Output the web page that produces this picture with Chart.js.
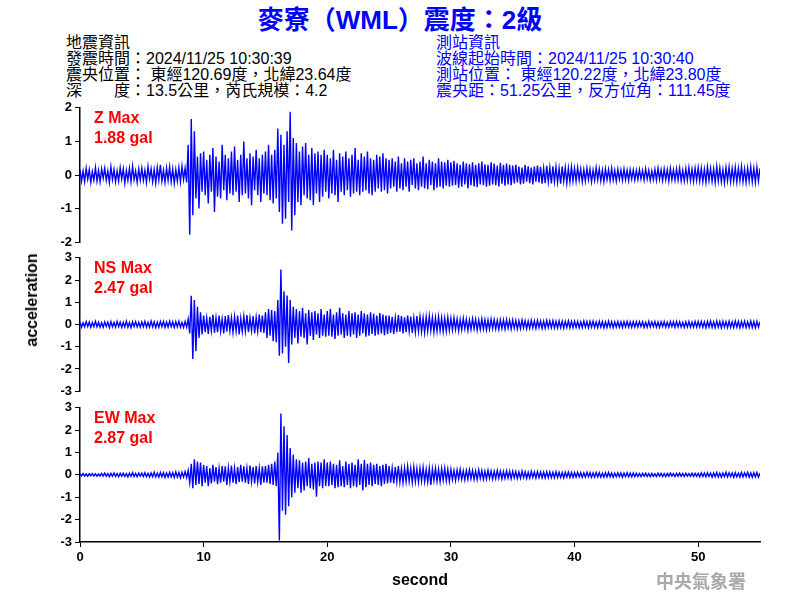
<!DOCTYPE html>
<html>
<head>
<meta charset="utf-8">
<script src="https://cdn.jsdelivr.net/npm/chart.js@4"></script>
<style>
  body { margin: 0; background: #fff; }
  #wrap { position: relative; width: 800px; height: 600px; overflow: hidden; font-family: "Liberation Sans", Arial, "Noto Sans CJK TC", sans-serif; }
  canvas { position: absolute; left: 40px; }
  #title { position: absolute; top: 3px; left: 0; width: 800px; text-align: center; color: #0000ff; font-size: 26px; font-weight: bold; line-height: 34px; }
  .info { position: absolute; top: 35px; font-size: 16px; line-height: 16px; white-space: pre; }
  #eqinfo { left: 66px; color: #000; }
  #stinfo { left: 436px; color: #0000ff; }
  .maxlbl { position: absolute; left: 94px; color: #ff0000; font-size: 16px; font-weight: bold; line-height: 20px; }
  #ylabel { position: absolute; left: 32px; top: 300px; transform: translate(-50%, -50%) rotate(-90deg); font-size: 16px; font-weight: bold; color: #000; white-space: nowrap; }
  #stamp { position: absolute; left: 656px; top: 570px; font-size: 18px; line-height: 20px; color: #a8a8a8; font-family: "Noto Sans CJK TC", sans-serif; font-weight: bold; }
</style>
</head>
<body>
<div id="wrap">
  <div id="title">麥寮（WML）震度：2級</div>
  <div class="info" id="eqinfo">地震資訊
發震時間：2024/11/25 10:30:39
震央位置： 東經120.69度，北緯23.64度
深　　度：13.5公里，芮氏規模：4.2</div>
  <div class="info" id="stinfo">測站資訊
波線起始時間：2024/11/25 10:30:40
測站位置： 東經120.22度，北緯23.80度
震央距：51.25公里，反方位角：111.45度</div>

  <canvas id="zChart" width="730" height="156" style="top:97px"></canvas>
  <canvas id="nsChart" width="730" height="155" style="top:247px"></canvas>
  <canvas id="ewChart" width="730" height="203" style="top:397px"></canvas>

  <div class="maxlbl" style="top:108px">Z Max<br>1.88 gal</div>
  <div class="maxlbl" style="top:258px">NS Max<br>2.47 gal</div>
  <div class="maxlbl" style="top:408px">EW Max<br>2.87 gal</div>
  <div id="ylabel">acceleration</div>
  <div id="stamp">中央氣象署</div>
</div>
<script>
// sample spacing of the traces (seconds), one row = 5 s
const step = 0.125;

// vertical component, gal
const zWave = [
  0.15,-0.18,0.12,-0.2,0.2,-0.12,0.16,-0.22,0.1,-0.15,0.22,-0.18,0.14,-0.2,0.18,-0.1,0.2,-0.16,0.12,-0.22,
  0.24,-0.14,0.16,-0.2,0.12,-0.18,0.22,-0.12,0.18,-0.24,0.14,-0.16,0.2,-0.2,0.26,-0.14,0.12,-0.22,0.18,-0.15,
  0.2,-0.16,0.14,-0.22,0.25,-0.12,0.18,-0.2,0.16,-0.24,0.22,-0.15,0.3,-0.18,0.14,-0.22,0.2,-0.16,0.24,-0.2,
  0.18,-0.25,0.16,-0.18,0.22,-0.2,0.26,-0.14,0.2,-0.22,0.9,-1.78,1.67,-1.2,1.3,-0.7,0.55,-1.0,0.65,-0.5,
  0.7,-0.6,0.45,-0.85,0.6,-0.5,0.8,-1.1,0.55,-0.65,0.4,-0.7,0.9,-0.45,0.6,-0.75,0.5,-0.55,0.7,-0.6,
  0.85,-0.5,0.45,-0.8,0.6,-0.6,1.0,-0.55,0.5,-0.7,0.65,-0.9,0.55,-0.45,0.75,-0.6,0.5,-0.8,0.6,-0.55,
  0.7,-0.6,0.9,-0.75,0.6,-0.85,0.75,-0.7,1.38,-1.1,1.2,-1.45,0.9,-1.3,1.3,-0.8,1.88,-1.65,1.1,-1.2,
  0.95,-0.8,0.7,-0.9,0.85,-0.6,0.95,-0.7,0.6,-0.75,0.8,-0.9,0.65,-0.55,0.7,-0.8,0.6,-0.65,0.75,-0.5,
  0.6,-0.7,0.5,-0.55,0.75,-0.6,0.45,-0.8,0.65,-0.5,0.55,-0.6,0.7,-0.45,0.5,-0.65,0.6,-0.55,0.8,-0.5,
  0.45,-0.6,0.65,-0.5,0.55,-0.45,0.7,-0.55,0.5,-0.6,0.45,-0.5,0.6,-0.4,0.55,-0.5,0.65,-0.45,0.5,-0.55,
  0.45,-0.4,0.5,-0.35,0.4,-0.5,0.55,-0.4,0.35,-0.45,0.5,-0.35,0.4,-0.5,0.45,-0.3,0.5,-0.4,0.35,-0.45,
  0.4,-0.35,0.55,-0.4,0.35,-0.42,0.45,-0.3,0.4,-0.45,0.35,-0.38,0.5,-0.35,0.4,-0.4,0.38,-0.32,0.45,-0.35,
  0.38,-0.32,0.42,-0.3,0.35,-0.38,0.3,-0.35,0.4,-0.28,0.35,-0.4,0.32,-0.3,0.38,-0.34,0.3,-0.36,0.35,-0.28,
  0.4,-0.3,0.32,-0.35,0.3,-0.32,0.38,-0.28,0.34,-0.3,0.28,-0.34,0.36,-0.26,0.3,-0.32,0.34,-0.28,0.3,-0.3,
  0.28,-0.25,0.3,-0.22,0.25,-0.28,0.22,-0.26,0.3,-0.2,0.26,-0.24,0.22,-0.28,0.25,-0.2,0.28,-0.22,0.24,-0.26,
  0.2,-0.24,0.27,-0.2,0.22,-0.25,0.26,-0.2,0.24,-0.22,0.2,-0.26,0.25,-0.18,0.22,-0.24,0.2,-0.2,0.24,-0.18,
  0.2,-0.18,0.22,-0.15,0.18,-0.2,0.16,-0.18,0.2,-0.14,0.17,-0.2,0.15,-0.16,0.22,-0.14,0.18,-0.18,0.15,-0.2,
  0.18,-0.14,0.16,-0.17,0.2,-0.15,0.14,-0.18,0.17,-0.13,0.15,-0.16,0.18,-0.14,0.14,-0.16,0.16,-0.12,0.15,-0.15,
  0.14,-0.13,0.16,-0.12,0.13,-0.15,0.18,-0.12,0.14,-0.16,0.12,-0.14,0.17,-0.15,0.2,-0.13,0.15,-0.17,0.18,-0.14,
  0.16,-0.18,0.2,-0.14,0.15,-0.16,0.18,-0.15,0.2,-0.17,0.14,-0.18,0.19,-0.15,0.22,-0.16,0.17,-0.19,0.2,-0.16,
  0.22,-0.18,0.2,-0.2,0.17,-0.22,0.24,-0.16,0.2,-0.19,0.18,-0.22,0.25,-0.18,0.21,-0.2,0.16,-0.23,0.22,-0.17,
  0.24,-0.2,0.19,-0.18,0.23,-0.21,0.2,-0.17,0.25,-0.2,0.18,-0.22,0.21,-0.18,0.24,-0.2,0.2,-0.22,0.23,-0.18,
  0.2
];

// north-south component
const nsWave = [
  0.1,-0.12,0.08,-0.1,0.13,-0.09,0.11,-0.13,0.09,-0.1,0.14,-0.11,0.1,-0.12,0.08,-0.13,0.12,-0.09,0.11,-0.14,
  0.13,-0.1,0.09,-0.12,0.14,-0.1,0.11,-0.13,0.1,-0.11,0.15,-0.12,0.09,-0.14,0.12,-0.1,0.13,-0.11,0.1,-0.12,
  0.12,-0.1,0.14,-0.12,0.1,-0.13,0.15,-0.11,0.12,-0.14,0.1,-0.12,0.13,-0.1,0.14,-0.13,0.11,-0.12,0.15,-0.1,
  0.12,-0.14,0.13,-0.11,0.15,-0.12,0.1,-0.13,0.14,-0.12,0.25,-0.4,1.29,-1.55,1.1,-1.2,0.8,-0.6,0.55,-0.45,
  0.4,-0.35,0.3,-0.42,0.35,-0.28,0.45,-0.38,0.3,-0.35,0.4,-0.3,0.25,-0.4,0.38,-0.32,0.42,-0.28,0.3,-0.36,
  0.35,-0.3,0.4,-0.45,0.28,-0.32,0.36,-0.3,0.42,-0.35,0.3,-0.28,0.38,-0.4,0.32,-0.3,0.45,-0.35,0.4,-0.38,
  0.55,-0.6,0.7,-0.5,0.65,-0.75,0.6,-0.8,1.1,-1.4,2.47,-1.3,1.5,-1.0,1.3,-1.73,1.1,-0.9,0.8,-0.6,
  0.7,-0.85,0.6,-0.55,0.75,-0.6,0.5,-0.9,0.65,-0.5,0.55,-0.7,0.6,-0.45,0.5,-0.6,0.7,-0.5,0.45,-0.55,
  0.6,-0.5,0.7,-0.55,0.45,-0.65,0.55,-0.5,0.75,-0.45,0.5,-0.6,0.45,-0.5,0.6,-0.55,0.5,-0.45,0.55,-0.6,
  0.45,-0.5,0.6,-0.4,0.5,-0.55,0.45,-0.5,0.55,-0.42,0.48,-0.5,0.4,-0.45,0.52,-0.4,0.45,-0.48,0.4,-0.42,
  0.4,-0.38,0.35,-0.42,0.3,-0.35,0.42,-0.32,0.38,-0.4,0.32,-0.35,0.4,-0.3,0.36,-0.38,0.3,-0.34,0.38,-0.3,
  0.35,-0.32,0.3,-0.36,0.34,-0.3,0.38,-0.28,0.32,-0.34,0.3,-0.3,0.35,-0.28,0.3,-0.32,0.28,-0.3,0.32,-0.26,
  0.28,-0.25,0.3,-0.22,0.25,-0.28,0.22,-0.24,0.28,-0.2,0.24,-0.26,0.2,-0.22,0.26,-0.2,0.23,-0.25,0.2,-0.22,
  0.25,-0.2,0.22,-0.24,0.2,-0.21,0.24,-0.18,0.22,-0.2,0.19,-0.22,0.21,-0.18,0.2,-0.2,0.22,-0.17,0.19,-0.2,
  0.2,-0.17,0.18,-0.2,0.16,-0.18,0.2,-0.15,0.17,-0.19,0.15,-0.17,0.19,-0.15,0.16,-0.18,0.18,-0.14,0.16,-0.17,
  0.15,-0.16,0.18,-0.14,0.16,-0.15,0.17,-0.16,0.14,-0.15,0.16,-0.14,0.15,-0.16,0.14,-0.13,0.16,-0.15,0.14,-0.14,
  0.15,-0.13,0.14,-0.15,0.12,-0.14,0.16,-0.12,0.13,-0.15,0.14,-0.12,0.15,-0.13,0.12,-0.14,0.14,-0.12,0.13,-0.15,
  0.12,-0.13,0.15,-0.12,0.13,-0.14,0.12,-0.12,0.14,-0.13,0.12,-0.14,0.13,-0.11,0.14,-0.12,0.12,-0.13,0.13,-0.12,
  0.12,-0.11,0.13,-0.1,0.12,-0.13,0.1,-0.12,0.14,-0.11,0.12,-0.1,0.13,-0.12,0.11,-0.13,0.12,-0.1,0.13,-0.12,
  0.11,-0.12,0.13,-0.1,0.12,-0.13,0.14,-0.11,0.12,-0.12,0.1,-0.13,0.12,-0.11,0.13,-0.12,0.11,-0.12,0.14,-0.12,
  0.13,-0.12,0.14,-0.13,0.12,-0.15,0.14,-0.12,0.15,-0.13,0.12,-0.14,0.16,-0.12,0.13,-0.15,0.14,-0.12,0.13,-0.14,
  0.15,-0.13,0.12,-0.14,0.16,-0.12,0.14,-0.15,0.13,-0.12,0.15,-0.14,0.12,-0.13,0.16,-0.14,0.13,-0.15,0.14,-0.12,
  0.13
];

// east-west component
const ewWave = [
  0.05,-0.04,0.06,-0.05,0.04,-0.06,0.05,-0.04,0.06,-0.05,0.05,-0.06,0.04,-0.05,0.07,-0.05,0.08,-0.06,0.06,-0.08,
  0.07,-0.06,0.09,-0.07,0.06,-0.08,0.07,-0.06,0.08,-0.07,0.06,-0.09,0.08,-0.06,0.1,-0.07,0.07,-0.08,0.09,-0.06,
  0.08,-0.07,0.1,-0.08,0.07,-0.1,0.09,-0.08,0.12,-0.09,0.08,-0.1,0.11,-0.08,0.1,-0.12,0.09,-0.1,0.12,-0.09,
  0.1,-0.12,0.14,-0.1,0.11,-0.13,0.12,-0.1,0.15,-0.12,0.2,-0.35,0.5,-0.6,0.7,-0.45,0.6,-0.4,0.55,-0.5,
  0.45,-0.35,0.4,-0.5,0.3,-0.38,0.45,-0.3,0.35,-0.42,0.3,-0.35,0.4,-0.3,0.38,-0.45,0.32,-0.3,0.42,-0.35,
  0.3,-0.4,0.35,-0.32,0.45,-0.3,0.38,-0.35,0.3,-0.4,0.42,-0.3,0.35,-0.38,0.4,-0.32,0.3,-0.45,0.38,-0.35,
  0.4,-0.35,0.45,-0.4,0.5,-0.45,0.6,-0.5,1.0,-2.93,2.75,-1.6,2.17,-1.78,1.78,-1.4,1.2,-1.0,0.9,-0.8,
  0.7,-0.6,0.65,-0.8,0.55,-0.7,0.6,-0.5,0.75,-0.6,0.5,-0.65,0.55,-0.97,0.6,-0.5,0.55,-0.6,0.7,-0.5,
  0.55,-0.5,0.6,-0.45,0.5,-0.6,0.45,-0.55,0.65,-0.5,0.4,-0.55,0.6,-0.45,0.5,-0.6,0.55,-0.5,0.45,-0.55,
  0.7,-0.45,0.5,-0.7,0.67,-0.55,0.5,-0.45,0.55,-0.5,0.45,-0.4,0.5,-0.45,0.4,-0.5,0.45,-0.4,0.5,-0.38,
  0.4,-0.35,0.3,-0.38,0.35,-0.3,0.4,-0.32,0.28,-0.35,0.32,-0.3,0.38,-0.28,0.3,-0.34,0.35,-0.3,0.28,-0.32,
  0.3,-0.28,0.34,-0.3,0.25,-0.32,0.3,-0.45,0.28,-0.25,0.3,-0.28,0.26,-0.3,0.28,-0.24,0.3,-0.26,0.25,-0.28,
  0.25,-0.22,0.2,-0.24,0.22,-0.18,0.24,-0.2,0.18,-0.22,0.2,-0.19,0.23,-0.17,0.2,-0.2,0.18,-0.21,0.22,-0.16,
  0.19,-0.2,0.17,-0.18,0.2,-0.16,0.18,-0.19,0.16,-0.17,0.2,-0.15,0.17,-0.18,0.15,-0.16,0.18,-0.14,0.16,-0.17,
  0.16,-0.14,0.15,-0.16,0.13,-0.15,0.17,-0.12,0.14,-0.15,0.12,-0.14,0.16,-0.12,0.13,-0.14,0.15,-0.12,0.13,-0.13,
  0.12,-0.14,0.14,-0.12,0.13,-0.12,0.12,-0.13,0.14,-0.11,0.12,-0.12,0.11,-0.13,0.12,-0.1,0.13,-0.12,0.11,-0.11,
  0.11,-0.1,0.12,-0.09,0.1,-0.11,0.09,-0.1,0.12,-0.08,0.1,-0.11,0.09,-0.1,0.11,-0.09,0.1,-0.1,0.08,-0.1,
  0.1,-0.09,0.11,-0.08,0.09,-0.1,0.08,-0.09,0.1,-0.08,0.09,-0.1,0.08,-0.08,0.1,-0.09,0.08,-0.09,0.09,-0.08,
  0.08,-0.07,0.06,-0.08,0.07,-0.06,0.08,-0.07,0.06,-0.08,0.07,-0.06,0.05,-0.07,0.08,-0.06,0.07,-0.07,0.06,-0.08,
  0.07,-0.06,0.08,-0.05,0.06,-0.07,0.07,-0.06,0.08,-0.06,0.06,-0.07,0.07,-0.05,0.06,-0.06,0.08,-0.07,0.07,-0.06,
  0.07,-0.08,0.09,-0.07,0.08,-0.09,0.1,-0.07,0.08,-0.1,0.09,-0.08,0.11,-0.09,0.08,-0.1,0.09,-0.08,0.12,-0.09,
  0.1,-0.08,0.09,-0.11,0.1,-0.09,0.08,-0.1,0.11,-0.09,0.1,-0.08,0.12,-0.1,0.09,-0.11,0.1,-0.09,0.11,-0.1,
  0.09
];

// tick labels
const xTicks = [0, 10, 20, 30, 40, 50];
const zTicks = [-2, -1, 0, 1, 2];
const hTicks = [-3, -2, -1, 0, 1, 2, 3];

const tickFont = { family: "'Liberation Sans', Arial, sans-serif", size: 13, weight: "bold" };

function toPoints(arr) {
  return arr.map((v, i) => ({ x: i * step, y: v }));
}

function makeChart(id, wave, yTicks, showX) {
  let ymax = yTicks[yTicks.length - 1];
  return new Chart(document.getElementById(id), {
    type: "line",
    data: {
      datasets: [{
        data: toPoints(wave),
        borderColor: "#0000ff",
        borderWidth: 1.4,
        pointRadius: 0,
        tension: 0,
      }],
    },
    options: {
      responsive: false,
      animation: false,
      events: [],
      layout: { padding: { top: 10, bottom: showX ? 0 : 10, left: 0, right: 10 } },
      plugins: { legend: { display: false }, tooltip: { enabled: false } },
      scales: {
        x: {
          type: "linear",
          min: 0,
          max: 55,
          display: showX,
          afterBuildTicks: (s) => { s.ticks = xTicks.map((v) => ({ value: v })); },
          // only the bottom panel carries the time axis
          afterFit: (s) => { if (showX) s.height = 58; },
          grid: { drawOnChartArea: false, drawTicks: true, tickLength: 5, color: "#000" },
          border: { display: true, color: "#000", width: 1.5 },
          ticks: { color: "#000", font: tickFont, padding: 3, maxRotation: 0 },
          title: {
            display: true,
            text: "second",
            color: "#000",
            font: { family: "'Liberation Sans', Arial, sans-serif", size: 16, weight: "bold" },
            padding: { top: 0, bottom: 10 },
          },
        },
        y: {
          min: -ymax,
          max: ymax,
          afterBuildTicks: (s) => { s.ticks = yTicks.map((v) => ({ value: v })); },
          afterFit: (s) => { s.width = 40; },
          grid: { drawOnChartArea: false, drawTicks: true, tickLength: 5, color: "#000" },
          border: { display: true, color: "#000", width: 1.5 },
          ticks: { color: "#000", font: tickFont, padding: 3 },
        },
      },
    },
  });
}

makeChart("zChart", zWave, zTicks, false);
makeChart("nsChart", nsWave, hTicks, false);
makeChart("ewChart", ewWave, hTicks, true);
</script>
</body>
</html>
